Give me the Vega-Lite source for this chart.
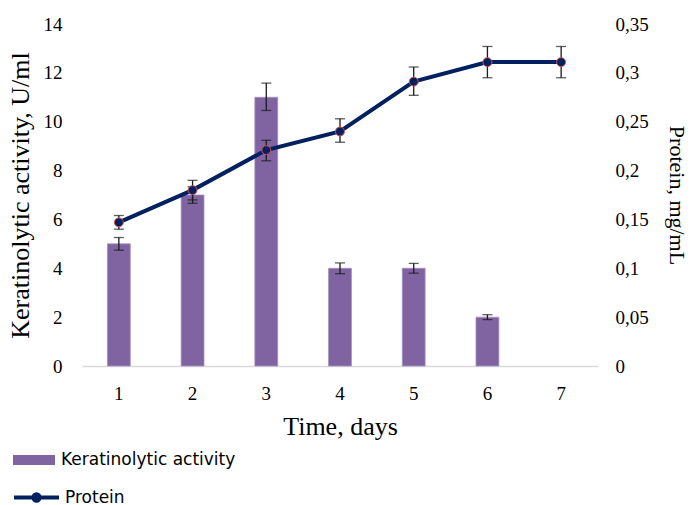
{
  "$schema": "https://vega.github.io/schema/vega-lite/v6.json",
  "width": 516,
  "height": 342,
  "autosize": {"type": "none"},
  "padding": {"left": 82, "top": 24, "right": 94, "bottom": 139},
  "background": "white",
  "config": {
    "view": {"stroke": null},
    "font": "Liberation Serif",
    "axis": {"grid": false, "labelColor": "#000000", "titleColor": "#000000", "titleFontWeight": "normal", "labelFont": "Liberation Serif", "titleFont": "Liberation Serif"},
    "legend": {"labelFont": "DejaVu Sans", "labelFontSize": 17, "labelColor": "#000000", "labelLimit": 400}
  },
  "data": {
    "values": [
      {"day": "1", "act": 5, "actLo": 4.74, "actHi": 5.26, "prot": 0.147, "protLo": 0.140, "protHi": 0.154},
      {"day": "2", "act": 7, "actLo": 6.66, "actHi": 7.34, "prot": 0.180, "protLo": 0.170, "protHi": 0.190},
      {"day": "3", "act": 11, "actLo": 10.46, "actHi": 11.58, "prot": 0.221, "protLo": 0.210, "protHi": 0.231},
      {"day": "4", "act": 4, "actLo": 3.78, "actHi": 4.22, "prot": 0.240, "protLo": 0.229, "protHi": 0.253},
      {"day": "5", "act": 4, "actLo": 3.8, "actHi": 4.2, "prot": 0.291, "protLo": 0.277, "protHi": 0.306},
      {"day": "6", "act": 2, "actLo": 1.9, "actHi": 2.1, "prot": 0.311, "protLo": 0.295, "protHi": 0.327},
      {"day": "7", "act": null, "actLo": null, "actHi": null, "prot": 0.311, "protLo": 0.295, "protHi": 0.327}
    ]
  },
  "encoding": {
    "x": {
      "field": "day",
      "type": "ordinal",
      "scale": {"type": "band", "paddingInner": 0.69, "paddingOuter": 0.345},
      "axis": {
        "title": "Time, days",
        "labelAngle": 0,
        "labelFontSize": 19,
        "titleFontSize": 26,
        "ticks": false,
        "tickSize": 0,
        "labelPadding": 18,
        "titlePadding": 10,
        "domainColor": "#d9d9d9",
        "domainWidth": 1.5
      }
    }
  },
  "layer": [
    {
      "encoding": {
        "y": {
          "type": "quantitative",
          "scale": {"domain": [0, 14], "nice": false},
          "axis": {
            "title": "Keratinolytic activity, U/ml",
            "values": [0, 2, 4, 6, 8, 10, 12, 14],
            "domain": false,
            "ticks": false,
            "tickSize": 0,
            "labelPadding": 20,
            "labelFontSize": 19,
            "titleFontSize": 26,
            "titlePadding": 10
          }
        }
      },
      "layer": [
        {
          "mark": {"type": "bar", "color": "#8064a2", "stroke": "#a391bf", "strokeWidth": 0.8},
          "encoding": {
            "y": {"field": "act", "type": "quantitative"},
            "fill": {
              "datum": "Keratinolytic activity",
              "scale": {"range": ["#8064a2"]},
              "legend": {
                "title": null,
                "orient": "none",
                "legendX": -69,
                "legendY": 415,
                "padding": 0,
                "symbolType": "M-1,-0.24H1V0.24H-1Z",
                "symbolSize": 1764,
                "symbolStrokeWidth": 0,
                "labelFont": "DejaVu Sans",
                "labelFontSize": 17,
                "labelLimit": 400,
                "labelColor": "#000000",
                "labelOffset": 6
              }
            }
          }
        },
        {
          "mark": {"type": "rule", "color": "#1a1a1a", "strokeWidth": 1.3},
          "encoding": {
            "y": {"field": "actLo", "type": "quantitative"},
            "y2": {"field": "actHi"}
          }
        },
        {
          "mark": {"type": "tick", "color": "#1a1a1a", "thickness": 1.3, "size": 10},
          "encoding": {"y": {"field": "actLo", "type": "quantitative"}}
        },
        {
          "mark": {"type": "tick", "color": "#1a1a1a", "thickness": 1.3, "size": 10},
          "encoding": {"y": {"field": "actHi", "type": "quantitative"}}
        }
      ]
    },
    {
      "encoding": {
        "y": {
          "type": "quantitative",
          "scale": {"domain": [0, 0.35], "nice": false},
          "axis": {
            "orient": "right",
            "title": "Protein, mg/mL",
            "values": [0, 0.05, 0.1, 0.15, 0.2, 0.25, 0.3, 0.35],
            "labelExpr": "replace(format(datum.value, '~g'), '.', ',')",
            "domain": false,
            "ticks": false,
            "tickSize": 0,
            "labelPadding": 17,
            "labelFontSize": 19,
            "titleFontSize": 22,
            "titlePadding": 16
          }
        }
      },
      "layer": [
        {
          "mark": {"type": "line", "strokeWidth": 4},
          "encoding": {
            "y": {"field": "prot", "type": "quantitative"},
            "stroke": {
              "datum": "Protein",
              "scale": {"range": ["#002060"]},
              "legend": {
                "title": null,
                "orient": "none",
                "legendX": -70,
                "legendY": 449,
                "padding": 0,
                "symbolType": "M-1,0H1M0.14,0A0.14,0.14 0 1,1 -0.14,0A0.14,0.14 0 1,1 0.14,0Z",
                "symbolSize": 2025,
                "symbolStrokeWidth": 4,
                "symbolFillColor": "#002060",
                "symbolStrokeColor": "#002060",
                "labelFont": "DejaVu Sans",
                "labelFontSize": 17,
                "labelLimit": 400,
                "labelColor": "#000000",
                "labelOffset": 4
              }
            }
          }
        },
        {
          "mark": {"type": "rule", "color": "#1a1a1a", "strokeWidth": 1.3},
          "encoding": {
            "y": {"field": "protLo", "type": "quantitative"},
            "y2": {"field": "protHi"}
          }
        },
        {
          "mark": {"type": "tick", "color": "#1a1a1a", "thickness": 1.3, "size": 10},
          "encoding": {"y": {"field": "protLo", "type": "quantitative"}}
        },
        {
          "mark": {"type": "tick", "color": "#1a1a1a", "thickness": 1.3, "size": 10},
          "encoding": {"y": {"field": "protHi", "type": "quantitative"}}
        },
        {
          "mark": {"type": "point", "filled": true, "fill": "#002060", "stroke": "#d9534f", "strokeWidth": 1, "size": 80, "opacity": 1},
          "encoding": {"y": {"field": "prot", "type": "quantitative"}}
        }
      ]
    }
  ],
  "resolve": {"scale": {"y": "independent"}}
}
